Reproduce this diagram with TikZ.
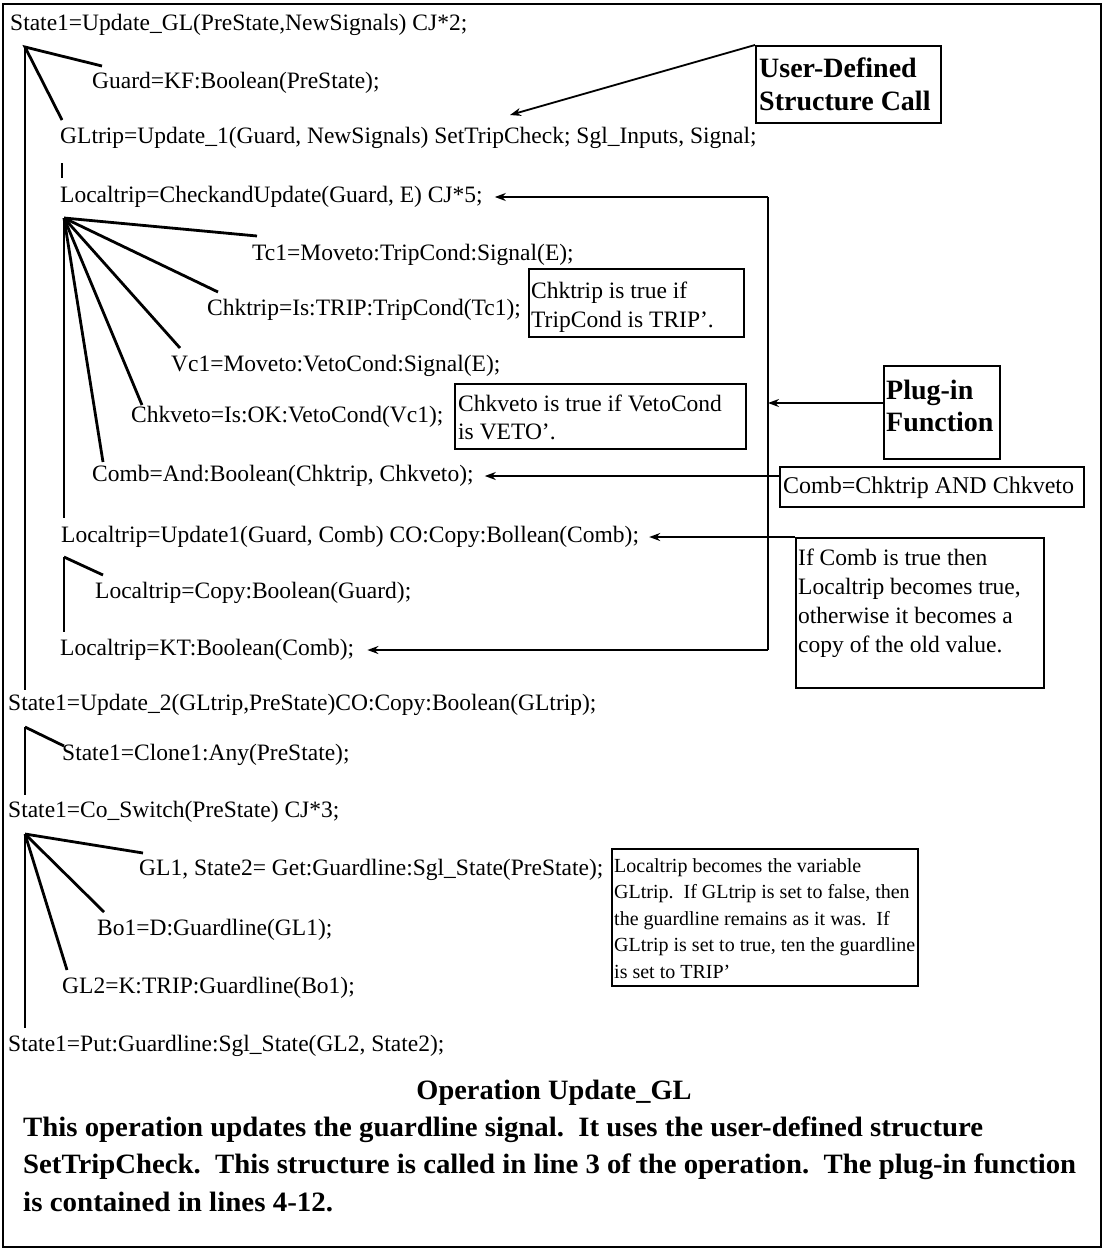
\documentclass[tikz,border=0pt]{standalone}
\usepackage{fontspec}
\setmainfont{Liberation Serif}
\usepackage{graphicx}
\usetikzlibrary{arrows.meta}
% squeeze a line of caption text to a given width, keeping its height
\newcommand{\fitw}[2]{\resizebox{#1pt}{\height}{#2}}
\tikzset{
  code/.style={anchor=west, inner sep=0pt, font=\fontsize{23.5}{23.5}\selectfont},
  heading/.style={anchor=west, inner sep=0pt, font=\fontsize{28}{28}\selectfont\bfseries},
  notetext/.style={anchor=north west, inner sep=0pt, align=left},
  outline/.style={draw, line width=1.4pt},
  notebox/.style={draw, line width=1.8pt, inner sep=0pt, anchor=north west},
  branch/.style={line width=2.8pt},
  trunk/.style={line width=1.7pt},
  pointer/.style={line width=1.8pt, -{Stealth[length=11pt,width=8pt]}},
  link/.style={line width=1.6pt},
}
\begin{document}
\begin{tikzpicture}[x=1pt,y=-1pt]
\useasboundingbox (0,0) rectangle (1105,1251);
\draw[outline] (3,4) rectangle (1101,1247);

% ---- operation body, one statement per line ----
\node[code] (l1)  at (10,25)   {State1=Update\_GL(PreState,NewSignals) CJ*2;};
\node[code] (l2)  at (92,83)   {Guard=KF:Boolean(PreState);};
\node[code] (l3)  at (60,138)  {GLtrip=Update\_1(Guard, NewSignals) SetTripCheck; Sgl\_Inputs, Signal;};
\node[code] (l4)  at (60,197)  {Localtrip=CheckandUpdate(Guard, E) CJ*5;};
\node[code] (l5)  at (252,255) {Tc1=Moveto:TripCond:Signal(E);};
\node[code] (l6)  at (207,310) {Chktrip=Is:TRIP:TripCond(Tc1);};
\node[code] (l7)  at (171,366) {Vc1=Moveto:VetoCond:Signal(E);};
\node[code] (l8)  at (131,417) {Chkveto=Is:OK:VetoCond(Vc1);};
\node[code] (l9)  at (92,476)  {Comb=And:Boolean(Chktrip, Chkveto);};
\node[code] (l10) at (61,537)  {Localtrip=Update1(Guard, Comb) CO:Copy:Bollean(Comb);};
\node[code] (l11) at (95,593)  {Localtrip=Copy:Boolean(Guard);};
\node[code] (l12) at (60,650)  {Localtrip=KT:Boolean(Comb);};
\node[code] (l13) at (8,705)   {State1=Update\_2(GLtrip,PreState)CO:Copy:Boolean(GLtrip);};
\node[code] (l14) at (62,755)  {State1=Clone1:Any(PreState);};
\node[code] (l15) at (8,812)   {State1=Co\_Switch(PreState) CJ*3;};
\node[code] (l16) at (139,870) {GL1, State2= Get:Guardline:Sgl\_State(PreState);};
\node[code] (l17) at (97,930)  {Bo1=D:Guardline(GL1);};
\node[code] (l18) at (62,988)  {GL2=K:TRIP:Guardline(Bo1);};
\node[code] (l19) at (8,1046)  {State1=Put:Guardline:Sgl\_State(GL2, State2);};

% ---- caption ----
\node[heading, anchor=center] (title) at (554,1093) {\fitw{275}{Operation Update\_GL}};
\node[heading] (p1) at (23,1130) {\fitw{960}{This operation updates the guardline signal.\ \ It uses the user-defined structure}};
\node[heading] (p2) at (23,1167) {\fitw{1053}{SetTripCheck.\ \ This structure is called in line 3 of the operation.\ \ The plug-in function}};
\node[heading] (p3) at (23,1202) {\fitw{310}{is contained in lines 4-12.}};

% ---- tree of calls ----
\coordinate (a1) at (25,47);
\coordinate (a2) at (64,218);
\coordinate (a3) at (64,557);
\coordinate (a4) at (25,727);
\coordinate (a5) at (25,834);
\coordinate (c2)  at (102,66);
\coordinate (c3)  at (62,120);
\coordinate (c5)  at (257,236);
\coordinate (c6)  at (218,292);
\coordinate (c7)  at (180,348);
\coordinate (c8)  at (142,405);
\coordinate (c9)  at (103,462);
\coordinate (c11) at (103,575);
\coordinate (c14) at (64,746);
\coordinate (c16) at (143,853);
\coordinate (c17) at (104,912);
\coordinate (c18) at (67,970);
\coordinate (e1) at (25,690);
\coordinate (e2) at (64,518);
\coordinate (e3) at (64,632);
\coordinate (e4) at (25,795);
\coordinate (e5) at (25,1028);
\coordinate (b1) at (62,163);
\coordinate (b2) at (62,178);

\draw[branch] (c2) -- (a1) -- (c3);
\draw[trunk] (a1) -- (e1);
\draw[trunk] (b1) -- (b2);
\draw[branch] (a2) -- (c5);
\draw[branch] (a2) -- (c6);
\draw[branch] (a2) -- (c7);
\draw[branch] (a2) -- (c8);
\draw[branch] (a2) -- (c9);
\draw[trunk] (a2) -- (e2);
\draw[branch] (a3) -- (c11);
\draw[trunk] (a3) -- (e3);
\draw[branch] (a4) -- (c14);
\draw[trunk] (a4) -- (e4);
\draw[branch] (a5) -- (c16);
\draw[branch] (a5) -- (c17);
\draw[branch] (a5) -- (c18);
\draw[trunk] (a5) -- (e5);

% ---- notes ----
\node[notebox, minimum width=185pt, minimum height=77pt] (user) at (755,45) {};
\node[notetext, font=\fontsize{28}{33}\selectfont\bfseries] (usertxt) at ([shift={(4,13)}]user.north west) {User-Defined\\Structure Call};

\node[notebox, minimum width=215pt, minimum height=68pt] (ntrip) at (528,268) {};
\node[notetext, font=\fontsize{23.5}{29}\selectfont] (ntriptxt) at ([shift={(3,13.5)}]ntrip.north west) {Chktrip is true if\\TripCond is TRIP’.};

\node[notebox, minimum width=291pt, minimum height=65pt] (nveto) at (454,383) {};
\node[notetext, font=\fontsize{23.5}{28}\selectfont] (nvetotxt) at ([shift={(4,11.5)}]nveto.north west) {Chkveto is true if VetoCond\\is VETO’.};

\node[notebox, minimum width=116pt, minimum height=93pt] (plug) at (883,365) {};
\node[notetext, font=\fontsize{28}{32}\selectfont\bfseries] (plugtxt) at ([shift={(3,15)}]plug.north west) {Plug-in\\Function};

\node[notebox, minimum width=304pt, minimum height=40pt] (comb) at (779,466) {};
\node[notetext, font=\fontsize{24}{24}\selectfont] (combtxt) at ([shift={(4,11)}]comb.north west) {Comb=Chktrip AND Chkveto};

\node[notebox, minimum width=248pt, minimum height=150pt] (ifc) at (795,537) {};
\node[notetext, font=\fontsize{23.5}{29}\selectfont] (ifctxt) at ([shift={(3,11.5)}]ifc.north west) {If Comb is true then\\Localtrip becomes true,\\otherwise it becomes a\\copy of the old value.};

\node[notebox, minimum width=306pt, minimum height=137pt] (gl) at (611,848) {};
\node[notetext, font=\fontsize{20}{26.5}\selectfont] (gltxt) at ([shift={(3,10)}]gl.north west) {Localtrip becomes the variable\\GLtrip.\ \ If GLtrip is set to false, then\\the guardline remains as it was.\ \ If\\GLtrip is set to true, ten the guardline\\is set to TRIP’};

% ---- connectors ----
\coordinate (tipuser) at (510,115);
\draw[pointer] (user.north west) -- (tipuser);

\coordinate (vtop) at (768,197);
\coordinate (vbot) at (768,650);
\coordinate (vplug) at (768,403);
\draw[link] (vtop) -- (vbot);
\draw[pointer] (vtop) -- ([xshift=12pt]l4.east);
\draw[pointer] (vbot) -- ([xshift=13pt]l12.east);
\draw[pointer] (plug.west |- vplug) -- (vplug);
\draw[pointer] (comb.west |- l9.east) -- ([xshift=11pt]l9.east);
\draw[pointer] (ifc.north west) -- ([xshift=10pt]l10.east |- ifc.north west);
\end{tikzpicture}
\end{document}
